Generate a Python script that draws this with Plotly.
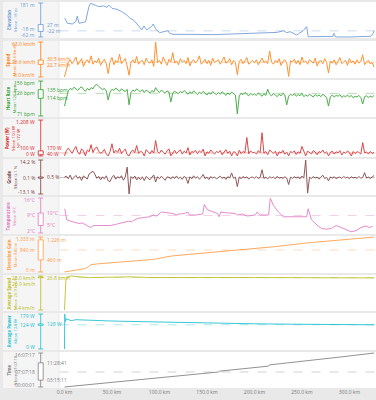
import numpy as np
import plotly.graph_objects as go

# ---------------- data ----------------
dist_km = np.arange(0, 328, 2)  # sample positions for the dense series

speed_kmh = [
    0, 15, 26, 31, 24, 29, 36, 22, 28, 33, 19, 27, 31, 25, 38, 23, 29, 26, 34, 21,
    28, 32, 24, 6, 27, 35, 22, 30, 26, 41, 24, 29, 33, 20, 3, 27, 31, 25, 37, 23,
    28, 30, 22, 34, 27, 25, 31, 19, 63, 26, 30, 23, 36, 28, 21, 32, 27, 44, 25, 29,
    22, 33, 26, 30, 24, 35, 20, 28, 31, 25, 29, 38, 23, 27, 32, 24, 30, 21, 34, 26,
    28, 31, 23, 29, 36, 25, 27, 33, 22, 30, 26, 4, 28, 32, 24, 29, 35, 23, 27, 30,
    25, 31, 22, 28, 34, 26, 29, 24, 47, 27, 23, 30, 26, 33, 21, 28, 31, 25, 1, 29,
    27, 32, 24, 30, 22, 36, 26, 29, 23, 31, 27, 25, 34, 20, 28, 30, 24, 33, 26, 7,
    29, 25, 31, 22, 28, 35, 24, 27, 30, 21, 33, 26, 29, 23, 31, 25, 28, 40, 22, 27, 30, 24, 26, 18]

heart_rate_bpm = [
    95, 118, 132, 138, 135, 141, 137, 133, 139, 142, 136, 131, 138, 134, 140, 137, 145, 148, 143, 139,
    135, 138, 132, 110, 129, 136, 133, 139, 135, 131, 137, 134, 130, 136, 98, 128, 134, 131, 137, 133,
    130, 135, 128, 134, 131, 127, 133, 129, 140, 132, 128, 134, 130, 126, 132, 129, 105, 127, 131, 128,
    125, 131, 127, 133, 129, 124, 130, 126, 132, 128, 123, 129, 125, 131, 127, 122, 128, 124, 130, 126,
    123, 128, 124, 130, 126, 121, 127, 123, 129, 125, 122, 76, 120, 126, 123, 128, 124, 120, 126, 122,
    125, 121, 127, 123, 119, 125, 121, 136, 124, 120, 126, 122, 118, 124, 120, 126, 122, 98, 119, 124,
    121, 125, 119, 123, 120, 126, 118, 122, 119, 124, 120, 117, 123, 119, 122, 118, 124, 120, 116, 95,
    118, 122, 117, 121, 119, 123, 116, 120, 118, 122, 117, 121, 115, 119, 117, 121, 116, 100, 118, 120, 116, 119, 117, 121]

power_w = [
    0, 180, 260, 150, 90, 210, 320, 120, 60, 240, 170, 0, 200, 140, 380, 110, 250, 300, 160, 90,
    130, 220, 70, 0, 150, 410, 100, 190, 120, 260, 80, 170, 230, 40, 0, 140, 200, 110, 350, 90,
    160, 120, 0, 210, 130, 70, 180, 100, 520, 150, 90, 200, 120, 60, 170, 240, 0, 110, 190, 80,
    140, 210, 60, 160, 100, 280, 30, 150, 120, 190, 70, 170, 110, 230, 0, 140, 90, 200, 130, 60,
    150, 110, 180, 40, 130, 210, 90, 160, 0, 140, 120, 0, 190, 80, 150, 110, 620, 70, 170, 100,
    130, 60, 180, 110, 780, 90, 150, 40, 200, 120, 80, 160, 0, 140, 100, 190, 60, 130, 0, 150,
    110, 170, 50, 140, 90, 320, 120, 0, 160, 100, 70, 180, 130, 40, 150, 110, 200, 80, 140, 0,
    120, 160, 60, 140, 100, 180, 30, 130, 90, 170, 110, 0, 150, 80, 140, 120, 60, 450, 100, 130, 70, 150, 90, 110]

grade_pct = [
    0.5, 1.2, -0.8, 2.1, -1.5, 0.3, 1.8, -0.6, 0.9, -2.2, 1.4, 0.2, -1.1, 3.0, 4.5, 5.2, 2.8, -0.5, 1.1, -1.8,
    0.6, -0.9, 1.5, -2.5, -3.1, 0.4, 1.9, -1.2, 0.8, -0.3, 1.6, -2.0, 0.5, 8.5, -13.1, 0.9, -0.7, 1.3, -1.9, 0.2,
    -1.6, 0.7, -2.3, 1.0, -0.5, -1.7, 0.4, 2.2, -3.5, 0.8, -0.9, 1.2, -0.4, -2.1, 0.6, 0.3, -1.0, 0.9, -0.6, 1.4,
    -0.8, 0.5, -1.3, 1.1, -0.2, -4.6, 0.7, -0.9, 1.5, -0.4, 0.8, -1.2, 0.3, 2.6, -0.7, 0.4, -1.5, 0.9, -0.3, 0.6,
    -1.0, 0.2, 1.2, -0.6, 0.5, -1.4, 0.8, -0.2, 3.8, -0.5, 0.4, -7.2, 0.6, -0.8, 1.0, -0.3, 0.7, -1.1, 0.2, 0.5,
    -0.4, 0.9, -0.7, 0.3, 6.4, -0.6, 0.4, -1.0, 0.8, -0.2, 0.5, -0.9, 1.1, -0.4, 0.2, -0.6, 0.7, -0.3, -5.5, 0.4,
    -0.5, 0.8, -0.2, 0.6, -0.9, 1.3, -0.4, 14.2, -12.4, 0.3, -0.6, 0.9, -0.3, 0.5, -1.2, 0.4, 2.0, -0.7, 0.3, -2.6,
    0.6, -0.4, 0.8, -0.9, 0.2, 0.5, -0.6, 1.0, -0.3, 0.4, -0.8, 0.7, -0.2, 0.3, -0.5, 0.9, -0.4, 0.2, 4.1, -0.3, 0.5, -0.7, 0.6, 1.8]

elev_km = [0.3, 3.1, 8.3, 11.8, 13.5, 15.3, 22.2, 25.7, 27.4, 30.9, 36.1, 41.3, 44.8, 46.5, 50, 55.2,
           60.4, 65.6, 69.1, 72.6, 76, 78.8, 81.3, 83.7, 86.5, 91.7, 93.4, 96.9, 100.3, 103.8, 109,
           110.8, 114.2, 131, 156, 175, 196, 224, 230.5, 234, 237.5, 244.5, 251.4, 255, 256.6, 265,
           282.6, 283.5, 285.5, 300, 317, 322.6, 325, 326]
elev_m = [72, 36, 31, 47, 88, 36, 47, 155, 179, 167, 155, 160, 150, 167, 143, 136,
          119, 95, 72, 60, 36, 12, -12, 17, -12, 12, 31, -12, -31, -24, -17,
          -36, -43, -43, -45, -41, -36, -29, -17, -31, -24, -48, -17, 12, -60, -60,
          -58, -36, -62, -62, -60, -57, -36, -17]

temp_km = [0.3, 2.4, 6.6, 11.8, 15.3, 18.8, 22.2, 27.4, 30.9, 37.8, 48.3, 53.5, 57, 62.2, 67.4, 70.8,
           72.6, 77.8, 89.9, 93.4, 96.9, 102, 107.3, 114.2, 117.7, 121.2, 126.4, 129.9, 131.6, 138.5,
           145.5, 147.2, 150.7, 155.9, 161.1, 162.8, 164.6, 169.8, 180.2, 182, 187.2, 192.4, 201, 202.8,
           206.3, 214.9, 216.7, 220.1, 225.3, 230.5, 235.8, 254.9, 256.6, 260.1, 267, 270.5, 275.7,
           280.9, 286.1, 291.3, 296.5, 301.8, 307, 312.2, 317.4, 320.8, 324.3]
temp_c = [11.7, 7.3, 6.7, 6.0, 5.8, 6.0, 5.4, 4.2, 5.0, 5.0, 5.0, 5.4, 5.7, 6.3, 6.7, 6.5,
          7.0, 7.9, 8.5, 9.2, 8.8, 10.4, 10.1, 9.8, 9.2, 9.6, 9.8, 10.4, 9.2, 9.2,
          9.6, 13.4, 11.3, 10.4, 9.8, 8.5, 10.4, 10.1, 9.8, 9.2, 9.6, 8.8, 9.2, 10.4,
          9.2, 9.2, 15.9, 13.0, 10.4, 8.5, 8.5, 8.5, 11.7, 7.3, 4.8, 3.8, 3.5,
          3.8, 5.0, 4.2, 3.5, 2.5, 2.9, 4.2, 4.8, 4.2, 4.6]

gain_km = [0, 5, 10, 16, 22, 25, 28, 35, 45, 60, 75, 94, 105, 115, 140, 180, 220, 256, 290, 326]
gain_m = [0, 35, 70, 100, 130, 200, 280, 310, 340, 390, 430, 480, 560, 620, 700, 830, 960, 1110, 1220, 1333]

avg_speed_km = [0, 0.3, 0.8, 1.5, 3, 6, 10, 18, 26, 35, 50, 70, 90, 110, 140, 170, 200, 230, 260, 290, 326]
avg_speed_kmh = [3.4, 12, 20, 25, 27.2, 28.0, 27.8, 27.5, 26.8, 27.0, 27.3, 27.4, 26.9, 27.0, 27.0,
                 26.9, 26.9, 26.8, 26.8, 26.7, 26.6]

avg_power_km = [0, 0.3, 1, 2, 4, 7, 12, 20, 30, 45, 60, 80, 100, 130, 160, 200, 240, 280, 326]
avg_power_w = [0, 179, 140, 155, 150, 145, 150, 148, 146, 144, 142, 140, 136, 133, 131, 129, 127, 125, 124]

time_km = [0, 40, 80, 120, 162, 163, 215, 216, 256, 290, 326]
time_h = [0, 1.75, 3.5, 5.25, 7.1, 7.5, 9.9, 10.5, 12.4, 14.2, 16.1214]

x_tick_km = [0, 50, 100, 150, 200, 250, 300]
x_tick_text = ["0.0 km", "50.0 km", "100.0 km", "150.0 km", "200.0 km", "250.0 km", "300.0 km"]

# gutter summaries: [max, mean, q3, q1, min]
elev_stats = [181, -18, 27, -22, -62]
elev_stat_text = ["181 m", "-18 m", "27 m", "-22 m", "-62 m"]
speed_stats = [63.0, 26.6, 30.5, 22.7, 0.0]
speed_stat_text = ["63.0 km/h", "26.6 km/h", "30.5 km/h", "22.7 km/h", "0.0 km/h"]
hr_stats = [156, 126, 135, 114, 71]
hr_stat_text = ["156 bpm", "126 bpm", "135 bpm", "114 bpm", "71 bpm"]
power_stats = [1208, 100, 170, 40, 0]
power_stat_text = ["1,208 W", "100 W", "170 W", "40 W", "0 W"]
grade_stats = [14.2, 0.1, 0.5, -0.4, -13.1]
grade_stat_text = ["14.2 %", "0.1 %", "0.5 %", "", "-13.1 %"]
temp_stats = [16, 9, 10, 5, 2]
temp_stat_text = ["16°C", "9°C", "10°C", "5°C", "2°C"]
gain_stats = [1333, 840, 1226, 460, 0]
gain_stat_text = ["1,333 m", "840 m", "1,226 m", "460 m", "0 m"]
avg_speed_stats = [28.0, 26.9, 27.3, 26.8, 3.4]
avg_speed_stat_text = ["28.0 km/h", "26.9 km/h", "26.8 km/h", "", "3.4 km/h"]
avg_power_stats = [179, 124, 128, 122, 0]
avg_power_stat_text = ["179 W", "124 W", "128 W", "", "0 W"]
time_stats = [16.1214, 7.1217, 11.4781, 3.2531, 0.0003]
time_stat_text = ["16:07:17", "07:07:18", "11:28:41", "03:15:11", "00:00:01"]

panels = [
    ("Elevation", ["Mean -18 m"], "#6b9bd6", elev_km, elev_m, elev_stats, elev_stat_text),
    ("Speed", ["Mean 26.6 km/h"], "#ff7f0e", dist_km, speed_kmh, speed_stats, speed_stat_text),
    ("Heart Rate", ["Mean 126 bpm"], "#2ca02c", dist_km, heart_rate_bpm, hr_stats, hr_stat_text),
    ("Power (W)", ["Mean 100 W", "NP 172 W"], "#d62728", dist_km, power_w, power_stats, power_stat_text),
    ("Grade", ["Mean 0.1 %"], "#7a3b3b", dist_km, grade_pct, grade_stats, grade_stat_text),
    ("Temperature", ["Mean 9°C"], "#e377c2", temp_km, temp_c, temp_stats, temp_stat_text),
    ("Elevation Gain", ["Mean 840 m"], "#ff9a45", gain_km, gain_m, gain_stats, gain_stat_text),
    ("Average Speed", ["Mean 26.9 km/h"], "#bcbd22", avg_speed_km, avg_speed_kmh, avg_speed_stats, avg_speed_stat_text),
    ("Average Power", ["Mean 124 W"], "#17becf", avg_power_km, avg_power_w, avg_power_stats, avg_power_stat_text),
    ("Time", ["Mean 07:07:18"], "#7f7f7f", time_km, time_h, time_stats, time_stat_text),
]

# ---------------- layout geometry (pixels) ----------------
W, H = 376, 400
PLOT_LEFT = 57
panel_px = [(2, 38), (41, 78), (80, 117), (119, 157), (159, 195), (197, 234),
            (236, 273), (275, 311), (313, 350), (352, 388)]
AX_X = 38
BOX_HW = 2.5
LABEL_H = 6.0


def px(x):
    return x / W


def py(y):
    return 1 - y / H


def hex_rgba(h, a):
    h = h.lstrip("#")
    return "rgba(%d,%d,%d,%.2f)" % (int(h[0:2], 16), int(h[2:4], 16), int(h[4:6], 16), a)


fig = go.Figure()
shapes, annotations = [], []
layout = dict(
    width=W, height=H, margin=dict(l=0, r=0, t=0, b=0),
    paper_bgcolor="#e9e9e9", plot_bgcolor="white", showlegend=False,
    font=dict(family="Open Sans, Arial, sans-serif", size=5, color="#777"),
    xaxis=dict(domain=[px(PLOT_LEFT), 1], range=[-5.2, 328], anchor="y10",
               tickvals=x_tick_km, ticktext=x_tick_text, tickfont=dict(size=5, color="#777"),
               showgrid=False, zeroline=False, showline=False, ticks="", fixedrange=True),
)

for i, (name, sub, color, xs, ys, stats, stext) in enumerate(panels):
    n = i + 1
    yname = "y" if n == 1 else "y%d" % n
    ykey = "yaxis" if n == 1 else "yaxis%d" % n
    top, bot = panel_px[i]
    vmax, vmean, vq3, vq1, vmin = stats
    pad = 0.03 * (vmax - vmin)
    lo, hi = vmin - pad, vmax + pad
    layout[ykey] = dict(domain=[py(bot), py(top)], range=[lo, hi],
                        anchor="x", showticklabels=False, showgrid=False, zeroline=False,
                        showline=False, fixedrange=True)
    fig.add_trace(go.Scatter(x=xs, y=ys, mode="lines", xaxis="x", yaxis=yname,
                             line=dict(color=color, width=1), opacity=0.85, hoverinfo="skip"))

    def vpx(v):
        return top + (hi - v) / (hi - lo) * (bot - top)

    # gutter background for this panel
    shapes.append(dict(type="rect", xref="paper", yref="paper", x0=0, x1=px(PLOT_LEFT - 1),
                       y0=py(bot), y1=py(top), fillcolor="#f5f5f5", line=dict(width=0),
                       layer="below"))
    # dashed mean line in the panel
    shapes.append(dict(type="line", xref="paper", yref=yname, x0=px(PLOT_LEFT), x1=1,
                       y0=vmean, y1=vmean, line=dict(color=hex_rgba(color, 0.35), width=1, dash="dash")))
    # gutter box-plot
    shapes.append(dict(type="line", xref="paper", yref=yname, x0=px(AX_X), x1=px(AX_X),
                       y0=vmin, y1=vmax, line=dict(color=hex_rgba(color, 0.8), width=1)))
    for v in (vmax, vmin, vmean):
        shapes.append(dict(type="line", xref="paper", yref=yname, x0=px(AX_X - BOX_HW),
                           x1=px(AX_X + BOX_HW), y0=v, y1=v,
                           line=dict(color=hex_rgba(color, 0.8), width=1)))
    shapes.append(dict(type="rect", xref="paper", yref=yname, x0=px(AX_X - BOX_HW),
                       x1=px(AX_X + BOX_HW), y0=vq1, y1=vq3, fillcolor="white",
                       line=dict(color=hex_rgba(color, 0.8), width=1)))

    lab_font = dict(size=5, color=color)
    lim_top, lim_bot = top + LABEL_H / 2, bot - LABEL_H / 2
    # left labels: max at top, min at bottom, mean kept clear of both
    y_mean_c = min(max(vpx(vmean), lim_top + LABEL_H), lim_bot - LABEL_H)
    for yc, t in ((lim_top, stext[0]), (y_mean_c, stext[1]), (lim_bot, stext[4])):
        if t:
            annotations.append(dict(x=px(AX_X - 4), y=py(yc), xref="paper", yref="paper", text=t,
                                    showarrow=False, xanchor="right", yanchor="middle", font=lab_font))
    # right labels: q3 / q1, kept apart and inside the panel
    y3, y1 = vpx(vq3), vpx(vq1)
    if stext[3]:
        if y1 - y3 < LABEL_H:
            mid = (y1 + y3) / 2
            y3, y1 = mid - LABEL_H / 2, mid + LABEL_H / 2
        if y1 > lim_bot:
            y1 = lim_bot
            y3 = min(y3, y1 - LABEL_H)
        if y3 < lim_top:
            y3 = lim_top
            y1 = max(y1, y3 + LABEL_H)
    else:
        y3 = min(max(y3, lim_top), lim_bot)
    for yc, t in ((y3, stext[2]), (y1, stext[3])):
        if t:
            annotations.append(dict(x=px(AX_X + 4), y=py(yc), xref="paper", yref="paper", text=t,
                                    showarrow=False, xanchor="left", yanchor="middle", font=lab_font))
    # rotated title
    title = "<b>%s</b><br>%s" % (name, "<br>".join(sub))
    annotations.append(dict(x=px(9), y=py((top + bot) / 2), xref="paper", yref="paper",
                            text=title, textangle=-90, showarrow=False, xanchor="center",
                            yanchor="middle", font=dict(size=4.3, color=color)))

layout["shapes"] = shapes
layout["annotations"] = annotations
fig.update_layout(**layout)
fig.write_html("out.html")
